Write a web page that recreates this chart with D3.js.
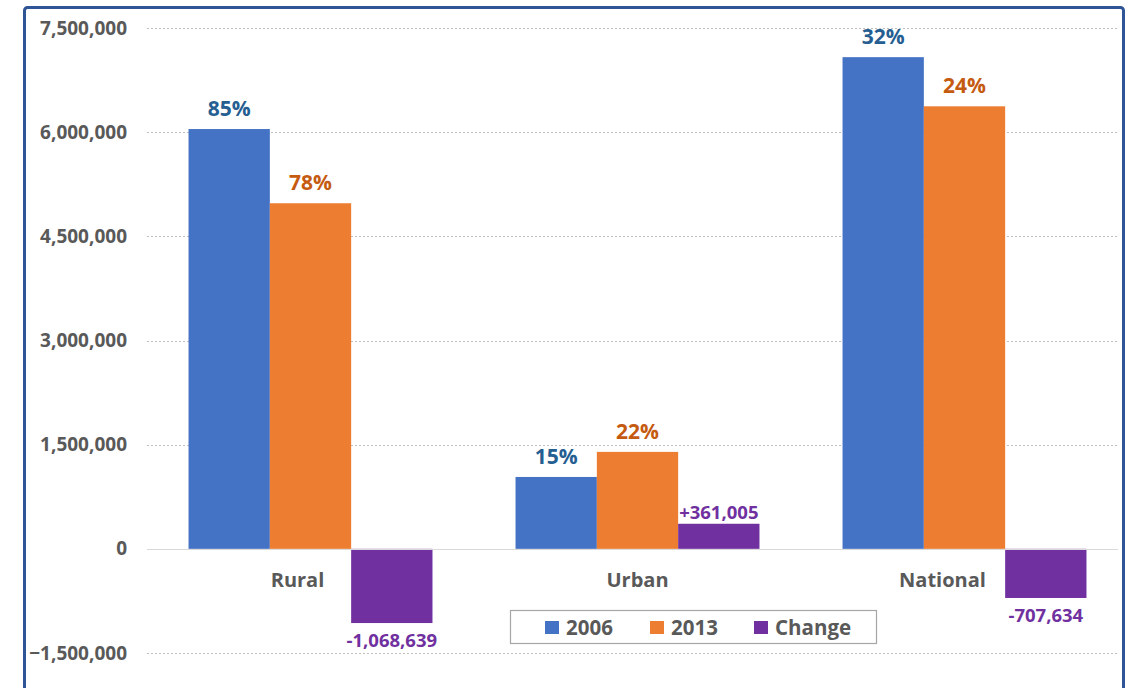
<!DOCTYPE html>
<html>
<head>
<meta charset="utf-8">
<script src="https://cdn.jsdelivr.net/npm/d3@7"></script>
<style>
  html, body { margin: 0; padding: 0; background: #ffffff; }
  svg { display: block; }
  text { font-family: "Open Sans", "Noto Sans", sans-serif; font-weight: 700; }
</style>
</head>
<body>
<svg id="chart" width="1132" height="688"></svg>
<script>
// Population by area, 2006 vs 2013, and the change between the two years
const categories = ["Rural", "Urban", "National"];
const seriesNames = ["2006", "2013", "Change"];
const values2006 = [6045000, 1035000, 7080000];
const values2013 = [4976361, 1396005, 6372366];
const valuesChange = [-1068639, 361005, -707634];
const share2006 = ["85%", "15%", "32%"];
const share2013 = ["78%", "22%", "24%"];
const changeLabels = ["-1,068,639", "+361,005", "-707,634"];
const yTicks = [-1500000, 0, 1500000, 3000000, 4500000, 6000000, 7500000];

const colors = { "2006": "#4472C4", "2013": "#ED7D31", "Change": "#7030A0" };
const labelColors = { "2006": "#255E91", "2013": "#C55A11", "Change": "#7030A0" };

const svg = d3.select("#chart");

// outer frame
svg.append("rect")
  .attr("x", 24.5).attr("y", 7.5)
  .attr("width", 1099).attr("height", 700)
  .attr("rx", 3)
  .attr("fill", "#ffffff")
  .attr("stroke", "#2F5597")
  .attr("stroke-width", 3);

const x0 = d3.scaleBand()
  .domain(categories)
  .range([147, 1128])
  .paddingInner(0.254)
  .paddingOuter(0.127);

const x1 = d3.scaleBand()
  .domain(seriesNames)
  .range([0, x0.bandwidth()]);

const y = d3.scaleLinear()
  .domain([-1500000, 7500000])
  .range([653, 28]);

const fmt = d3.format(",");

// gridlines
const grid = svg.append("g");
grid.selectAll("line")
  .data(yTicks.filter(d => d !== 0))
  .join("line")
  .attr("x1", 147).attr("x2", 1118)
  .attr("y1", d => Math.round(y(d)) + 0.5)
  .attr("y2", d => Math.round(y(d)) + 0.5)
  .attr("stroke", "#BFBFBF")
  .attr("stroke-width", 1.2)
  .attr("stroke-dasharray", "2,2");

// y axis labels
const yAxis = d3.axisLeft(y).tickValues(yTicks).tickFormat(fmt).tickSize(0).tickPadding(0);
const yg = svg.append("g").attr("transform", "translate(127,0)").call(yAxis);
yg.select(".domain").remove();
yg.selectAll("text")
  .attr("fill", "#595959")
  .style("font-size", "19px")
  .style("font-family", "'Open Sans', sans-serif")
  .style("font-weight", "700");

// rows of bar data
const rows = categories.map((c, i) => ({
  category: c,
  bars: [
    { series: "2006", value: values2006[i], label: share2006[i] },
    { series: "2013", value: values2013[i], label: share2013[i] },
    { series: "Change", value: valuesChange[i], label: changeLabels[i] }
  ]
}));

const groups = svg.append("g").selectAll("g")
  .data(rows)
  .join("g")
  .attr("transform", d => `translate(${x0(d.category)},0)`);

groups.selectAll("rect")
  .data(d => d.bars)
  .join("rect")
  .attr("x", d => x1(d.series))
  .attr("width", x1.bandwidth())
  .attr("y", d => y(Math.max(0, d.value)))
  .attr("height", d => Math.abs(y(d.value) - y(0)))
  .attr("fill", d => colors[d.series]);

groups.selectAll("text.val")
  .data(d => d.bars)
  .join("text")
  .attr("class", "val")
  .attr("x", d => x1(d.series) + x1.bandwidth() / 2)
  .attr("y", d => d.value >= 0 ? y(d.value) - (d.series === "Change" ? 5 : 13) : y(d.value) + 24)
  .attr("text-anchor", "middle")
  .attr("fill", d => labelColors[d.series])
  .style("font-size", d => d.series === "Change" ? "18.5px" : "21px")
  .text(d => d.label);

// zero line
svg.append("line")
  .attr("x1", 147).attr("x2", 1118)
  .attr("y1", Math.round(y(0)) + 0.5).attr("y2", Math.round(y(0)) + 0.5)
  .attr("stroke", "#D9D9D9")
  .attr("stroke-width", 1.2);

// category labels
const catShift = { "Rural": -13, "Urban": 0, "National": -22 };
svg.append("g").selectAll("text")
  .data(categories)
  .join("text")
  .attr("x", d => x0(d) + x0.bandwidth() / 2 + catShift[d])
  .attr("y", y(0) + 38)
  .attr("text-anchor", "middle")
  .attr("fill", "#595959")
  .style("font-size", "20px")
  .text(d => d);

// legend
const legend = svg.append("g");
legend.append("rect")
  .attr("x", 510.5).attr("y", 610.5)
  .attr("width", 366).attr("height", 33)
  .attr("fill", "#ffffff")
  .attr("stroke", "#A6A6A6")
  .attr("stroke-width", 1.2);

const legendX = { "2006": 545, "2013": 650, "Change": 754 };
const items = legend.selectAll("g")
  .data(seriesNames)
  .join("g")
  .attr("transform", d => `translate(${legendX[d]},621)`);
items.append("rect")
  .attr("width", 14).attr("height", 13)
  .attr("fill", d => colors[d]);
items.append("text")
  .attr("x", 21).attr("y", 14)
  .attr("fill", "#595959")
  .style("font-size", "20.5px")
  .text(d => d);
</script>
</body>
</html>
